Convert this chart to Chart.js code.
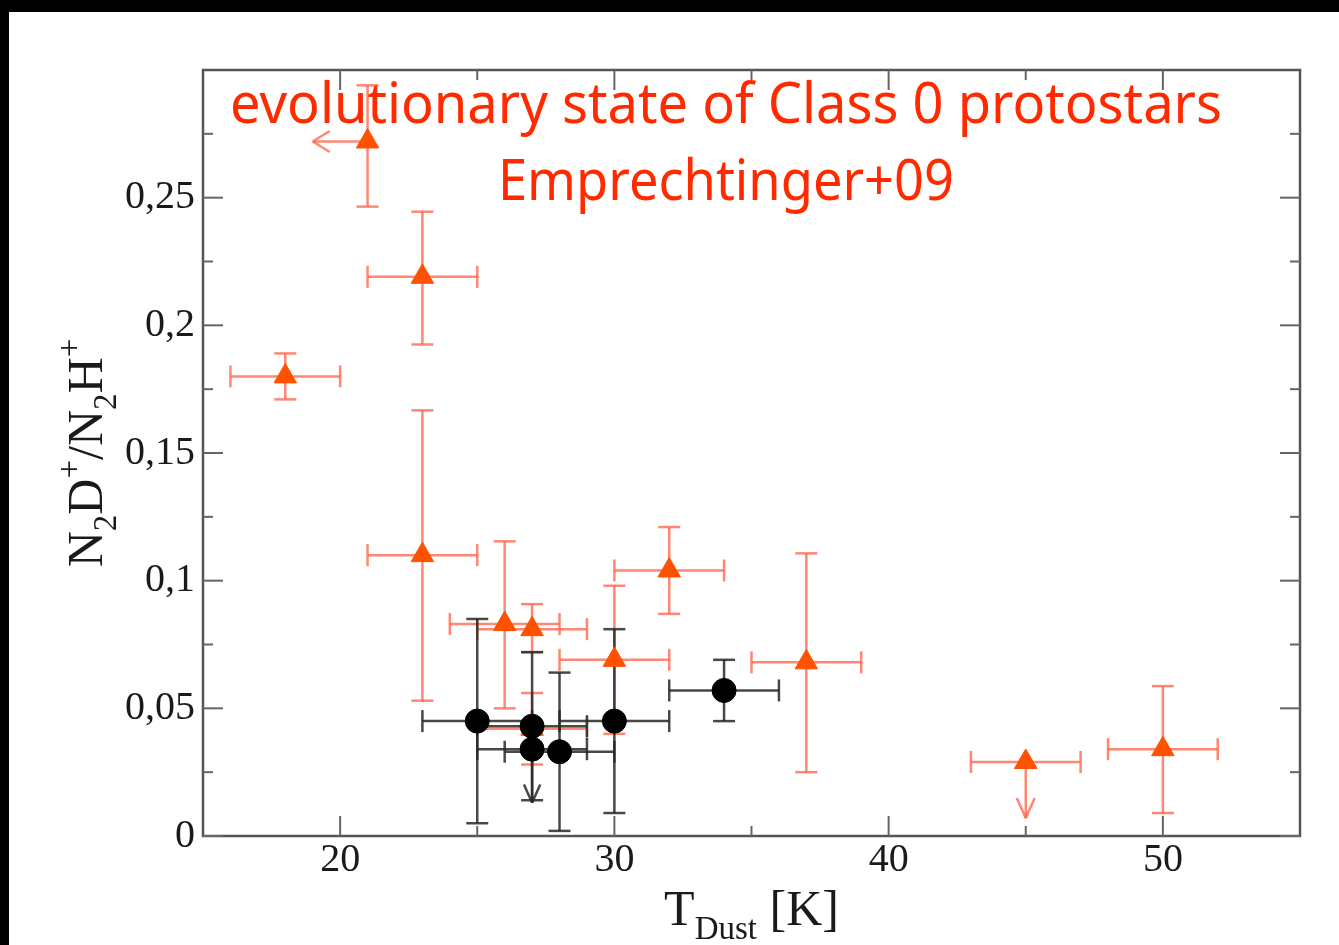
<!DOCTYPE html>
<html><head><meta charset="utf-8">
<script src="https://cdn.jsdelivr.net/npm/chart.js@4.4.1/dist/chart.umd.min.js"></script>
<style>
html,body{margin:0;padding:0;background:#000;width:1339px;height:945px;overflow:hidden;}
#panel{position:absolute;left:9px;top:12px;width:1330px;height:933px;background:#fff;}
#c{position:absolute;left:0;top:0;}
</style></head><body>
<div id="panel"></div>
<canvas id="c" width="1339" height="945"></canvas>
<script>
// ---- axis ticks ----
const xTickValues = [20, 30, 40, 50];
const xTickLabels = ['20', '30', '40', '50'];
const xMinorValues = [25, 35, 45];
const yTickValues = [0, 0.05, 0.1, 0.15, 0.2, 0.25];
const yTickLabels = ['0', '0,05', '0,1', '0,15', '0,2', '0,25'];
const yMinorValues = [0.025, 0.075, 0.125, 0.175, 0.225, 0.275];

// ---- red triangles ----
const redT    = [18, 21, 23, 23, 26, 27, 27, 30, 32, 37, 45, 50];
const redR    = [0.180, 0.272, 0.219, 0.110, 0.083, 0.081, 0.042, 0.069, 0.104, 0.068, 0.029, 0.034];
const redTLo  = [16, null, 21, 21, 24, 25, 25, 28, 30, 35, 43, 48];
const redTHi  = [20, null, 25, 25, 28, 29, 29, 32, 34, 39, 47, 52];
const redRLo  = [0.171, 0.2465, 0.1925, 0.053, 0.050, 0.072, 0.028, 0.040, 0.087, 0.025, null, 0.009];
const redRHi  = [0.189, 0.294, 0.2445, 0.1667, 0.1154, 0.0908, 0.056, 0.098, 0.121, 0.1107, null, 0.0587];
const redTArrowTo = [null, 19, null, null, null, null, null, null, null, null, null, null];
const redRArrowTo = [null, null, null, null, null, null, null, null, null, null, 0.007, null];

// ---- black circles ----
const blackT   = [25, 27, 27, 28, 30, 34];
const blackR   = [0.045, 0.043, 0.034, 0.033, 0.045, 0.057];
const blackTLo = [23, 25, 25, 26, 28, 32];
const blackTHi = [27, 29, 29, 30, 32, 36];
const blackRLo = [0.005, 0.014, null, 0.002, 0.009, 0.045];
const blackRHi = [0.085, 0.072, null, 0.064, 0.081, 0.069];
const blackRArrowTo = [null, null, 0.013, null, null, null];

const noteLine1 = 'evolutionary state of Class 0 protostars';
const noteLine2 = 'Emprechtinger+09';

const RED_MARK = '#ff5200';
const RED_BAR = 'rgba(255,105,80,0.8)';
const BLACK_BAR = 'rgba(40,40,40,0.85)';
const TEXT_RED = '#ff2a00';
const AXIS_COL = '#555';
const SERIF = '"Liberation Serif", "DejaVu Serif", serif';

function line(ctx, x1, y1, x2, y2) { ctx.beginPath(); ctx.moveTo(x1, y1); ctx.lineTo(x2, y2); ctx.stroke(); }

function drawBars(ctx, xs, ys, T, R, TLo, THi, RLo, RHi, color) {
  const cap = 11;
  ctx.save();
  ctx.strokeStyle = color; ctx.lineWidth = 2.5;
  for (let i = 0; i < T.length; i++) {
    const px = xs.getPixelForValue(T[i]), py = ys.getPixelForValue(R[i]);
    if (TLo[i] != null) {
      const a = xs.getPixelForValue(TLo[i]), b = xs.getPixelForValue(THi[i]);
      line(ctx, a, py, b, py);
      line(ctx, a, py - cap, a, py + cap);
      line(ctx, b, py - cap, b, py + cap);
    }
    if (RLo[i] != null) {
      const a = ys.getPixelForValue(RLo[i]), b = ys.getPixelForValue(RHi[i]);
      line(ctx, px, a, px, b);
      line(ctx, px - cap, a, px + cap, a);
      line(ctx, px - cap, b, px + cap, b);
    }
  }
  ctx.restore();
}

function arrow(ctx, x1, y1, x2, y2, color, head, spread) {
  ctx.save();
  ctx.strokeStyle = color; ctx.lineWidth = 2.5;
  line(ctx, x1, y1, x2, y2);
  const ang = Math.atan2(y2 - y1, x2 - x1);
  for (const s of [-1, 1]) {
    const a = ang + Math.PI + s * spread;
    line(ctx, x2, y2, x2 + head * Math.cos(a), y2 + head * Math.sin(a));
  }
  ctx.restore();
}

function drawRich(ctx, parts, size) {
  const widths = parts.map(([t, k]) => {
    ctx.font = (k ? Math.round(size * 0.65) : size) + 'px ' + SERIF;
    return ctx.measureText(t).width;
  });
  const total = widths.reduce((a, b) => a + b, 0);
  let cx = -total / 2;
  parts.forEach(([t, k], i) => {
    ctx.font = (k ? Math.round(size * 0.65) : size) + 'px ' + SERIF;
    const dy = k === 'sub' ? size * 0.28 : (k === 'sup' ? -size * 0.45 : 0);
    ctx.fillText(t, cx, dy);
    cx += widths[i];
  });
}

const overlay = {
  id: 'overlay',
  beforeDatasetsDraw(chart) {
    const { ctx, scales: { x, y } } = chart;
    drawBars(ctx, x, y, redT, redR, redTLo, redTHi, redRLo, redRHi, RED_BAR);
    drawBars(ctx, x, y, blackT, blackR, blackTLo, blackTHi, blackRLo, blackRHi, BLACK_BAR);
    redT.forEach((t, i) => {
      const px = x.getPixelForValue(t), py = y.getPixelForValue(redR[i]);
      if (redTArrowTo[i] != null) arrow(ctx, px, py, x.getPixelForValue(redTArrowTo[i]), py, RED_BAR, 20, 0.55);
      if (redRArrowTo[i] != null) arrow(ctx, px, py, px, y.getPixelForValue(redRArrowTo[i]), RED_BAR, 22, 0.42);
    });
    blackT.forEach((t, i) => {
      const px = x.getPixelForValue(t), py = y.getPixelForValue(blackR[i]);
      if (blackRArrowTo[i] != null) arrow(ctx, px, py, px, y.getPixelForValue(blackRArrowTo[i]), BLACK_BAR, 20, 0.42);
    });
  },
  afterDatasetsDraw(chart) {
    const { ctx, chartArea: ca, scales: { x, y } } = chart;
    ctx.save();
    ctx.strokeStyle = AXIS_COL; ctx.lineWidth = 2.5;
    ctx.strokeRect(ca.left, ca.top, ca.right - ca.left, ca.bottom - ca.top);
    ctx.lineWidth = 2;
    ctx.strokeStyle = '#666';
    const maj = 20, min = 10;
    xTickValues.forEach(v => { const p = x.getPixelForValue(v); line(ctx, p, ca.bottom, p, ca.bottom - maj); line(ctx, p, ca.top, p, ca.top + maj); });
    xMinorValues.forEach(v => { const p = x.getPixelForValue(v); line(ctx, p, ca.bottom, p, ca.bottom - min); line(ctx, p, ca.top, p, ca.top + min); });
    yTickValues.forEach(v => { const p = y.getPixelForValue(v); line(ctx, ca.left, p, ca.left + maj, p); line(ctx, ca.right, p, ca.right - maj, p); });
    yMinorValues.forEach(v => { const p = y.getPixelForValue(v); line(ctx, ca.left, p, ca.left + min, p); line(ctx, ca.right, p, ca.right - min, p); });
    ctx.restore();

    ctx.save();
    ctx.fillStyle = '#1a1a1a';
    ctx.textAlign = 'left'; ctx.textBaseline = 'alphabetic';
    ctx.save();
    ctx.translate((ca.left + ca.right) / 2, ca.bottom + 89);
    drawRich(ctx, [['T', null], ['Dust', 'sub'], [' [K]', null]], 50);
    ctx.restore();
    ctx.save();
    ctx.translate(ca.left - 101, (ca.top + ca.bottom) / 2);
    ctx.rotate(-Math.PI / 2);
    drawRich(ctx, [['N', null], ['2', 'sub'], ['D', null], ['+', 'sup'], ['/', null], ['N', null], ['2', 'sub'], ['H', null], ['+', 'sup']], 50);
    ctx.restore();
    ctx.restore();

    ctx.save();
    ctx.fillStyle = TEXT_RED;
    ctx.textAlign = 'center'; ctx.textBaseline = 'alphabetic';
    ctx.font = '56px "Noto Sans", sans-serif';
    const cx = ca.left + 523;
    [[noteLine1, 992, ca.top + 53], [noteLine2, 456, ca.top + 130]].forEach(([t, w, by]) => {
      const m = ctx.measureText(t).width;
      ctx.save(); ctx.translate(cx, by); ctx.scale(w / m, 1); ctx.fillText(t, 0, 0); ctx.restore();
    });
    ctx.restore();
  }
};

new Chart(document.getElementById('c'), {
  type: 'scatter',
  data: {
    datasets: [
      { label: 'red', order: 2, data: redT.map((t, i) => ({ x: t, y: redR[i] })), pointStyle: 'triangle', pointRadius: 13,
        backgroundColor: RED_MARK, borderColor: RED_MARK, borderWidth: 1 },
      { label: 'black', order: 1, data: blackT.map((t, i) => ({ x: t, y: blackR[i] })), pointStyle: 'circle', pointRadius: 12,
        backgroundColor: '#000', borderColor: '#000', borderWidth: 1 }
    ]
  },
  options: {
    responsive: false, animation: false, devicePixelRatio: 1,
    layout: { padding: { top: 70, right: 39, left: 0, bottom: 0 } },
    plugins: { legend: { display: false }, tooltip: { enabled: false } },
    scales: {
      x: {
        type: 'linear', min: 15, max: 55,
        grid: { display: false, drawTicks: false }, border: { display: false },
        afterBuildTicks: s => { s.ticks = xTickValues.map(v => ({ value: v })); },
        afterFit: s => { s.height = 109; },
        ticks: { padding: 0, color: '#1a1a1a', font: { family: SERIF, size: 40 },
          callback: v => xTickLabels[xTickValues.indexOf(v)] }
      },
      y: {
        type: 'linear', min: 0, max: 0.3,
        grid: { display: false, drawTicks: false }, border: { display: false },
        afterBuildTicks: s => { s.ticks = yTickValues.map(v => ({ value: v })); },
        afterFit: s => { s.width = 203; },
        ticks: { padding: 8, color: '#1a1a1a', font: { family: SERIF, size: 40 },
          callback: v => yTickLabels[yTickValues.indexOf(v)] }
      }
    }
  },
  plugins: [overlay]
});
</script>
</body></html>
